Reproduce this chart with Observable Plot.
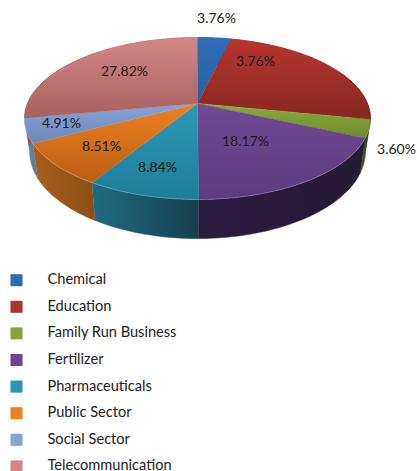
<!DOCTYPE html>
<html>
<head>
<meta charset="utf-8">
<script src="https://cdn.jsdelivr.net/npm/d3@7"></script>
<script src="https://cdn.jsdelivr.net/npm/@observablehq/plot@0.6"></script>
<style>html,body{margin:0;padding:0;background:#fff}svg{display:block}</style>
</head>
<body>
<div id="chart"></div>
<script>
// Data
const categories = ["Chemical","Education","Family Run Business","Fertilizer","Pharmaceuticals","Public Sector","Social Sector","Telecommunication"];
// Slice shares. Education is printed as 3.76% in the source, but its slice is drawn about 24.39% wide.
const shares = [3.76,24.39,3.60,18.17,8.84,8.51,4.91,27.82];
const printedLabels = ["3.76%","3.76%","3.60%","18.17%","8.84%","8.51%","4.91%","27.82%"];

// Styling
const topLight = ["#2f6db8","#b8352f","#8aab3b","#6f4a95","#2b9ab8","#f0801f","#87a5da","#d38888"];
const topDark  = ["#2a5f9f","#87261f","#6f8a2e","#5c3b7d","#1f7d97","#b95e14","#6c87b4","#a86060"];
const wallLeft = ["#1d3e66","#5c1a18","#44581c","#2c1b42","#1f6c82","#a85f1b","#6e8dba","#8c5252"];
const wallRight= ["#1d3e66","#5c1a18","#2e3c14","#251a33","#173f4f","#8a4f17","#5a7296","#8c5252"];
const swatches = ["#2e6ab2","#b2322f","#83a43a","#6a4694","#2b97b5","#ee7f22","#88a4d6","#d28584"];
const labelXY = [[216,18],[255,61],[396,149],[245,141],[157,167],[101,146],[61,123],[124,71]];

// Perspective view of the tilted disc: a share of the circle becomes a point on screen
const k = 0.185;
const topDisc = {cx:197, cy:103, a:170, b:78.2};
const baseDisc = {cx:197, cy:135, a:165, b:84};
const project = (disc, turn, r = 1) => {
  const t = turn * 2 * Math.PI, u = r * Math.sin(t), v = -r * Math.cos(t), w = 1 - k * v;
  return {x: disc.cx + disc.a * u / w, y: disc.cy + disc.b * v / w};
};
const total = d3.sum(shares);
const cum = d3.cumsum(shares);
const spans = shares.map((s, i) => [(cum[i] - s) / total, cum[i] / total]);
const rim = (disc, [a, b]) => {
  const n = Math.max(2, Math.ceil((b - a) * 360));
  return d3.range(n + 1).map(j => project(disc, a + (b - a) * j / n));
};

const defs = () => {
  const s = d3.create("svg:defs");
  const grad = (id, c0, c1, x2, y2) => {
    const g = s.append("linearGradient").attr("id", id).attr("x1", 0).attr("y1", 0).attr("x2", x2).attr("y2", y2);
    g.append("stop").attr("offset", 0).attr("stop-color", c0);
    g.append("stop").attr("offset", 1).attr("stop-color", c1);
  };
  categories.forEach((_, i) => {
    grad("top" + i, topLight[i], topDark[i], 0, 1);
    grad("wall" + i, wallLeft[i], wallRight[i], 1, 0);
  });
  return s.node();
};

const marks = [defs];
// Side walls
spans.forEach((span, i) => {
  const pts = [...rim(topDisc, span), ...rim(baseDisc, span).reverse()];
  marks.push(Plot.line(pts, {x:"x", y:"y", fill:`url(#wall${i})`, stroke:`url(#wall${i})`, strokeWidth:0.5}));
});
// Top faces
spans.forEach((span, i) => {
  const pts = [{x:topDisc.cx, y:topDisc.cy}, ...rim(topDisc, span)];
  marks.push(Plot.line(pts, {x:"x", y:"y", fill:`url(#top${i})`, stroke:`url(#top${i})`, strokeWidth:0.5}));
});
// Soft highlight along the front edge of the top face
marks.push(Plot.line(rim(topDisc, [0.3, 0.72]), {x:"x", y:"y", stroke:"#fff", strokeOpacity:0.22, strokeWidth:1}));
// Slice labels
marks.push(Plot.text(printedLabels, {
  x:(d, i) => labelXY[i][0], y:(d, i) => labelXY[i][1], text:d => d,
  fontSize:14, fill:"#1a1a1a"
}));
// Legend
const legendY = i => 279.7 + 26.6 * i;
marks.push(Plot.dot(categories, {x:16, y:(d, i) => legendY(i), fill:d => d, symbol:"square", r:6.8, stroke:null}));
marks.push(Plot.text(categories, {x:47, y:(d, i) => legendY(i) - 0.6, text:d => d, textAnchor:"start", fontSize:14.6, fill:"#222"}));

const chart = Plot.plot({
  width:417, height:471, margin:0,
  style:{fontFamily:"Lato, 'Open Sans', sans-serif", background:"#fff"},
  x:{domain:[0,417], range:[0,417], axis:null},
  y:{domain:[0,471], range:[0,471], axis:null},
  color:{domain:categories, range:swatches},
  marks
});
document.getElementById("chart").append(chart);
</script>
</body>
</html>
